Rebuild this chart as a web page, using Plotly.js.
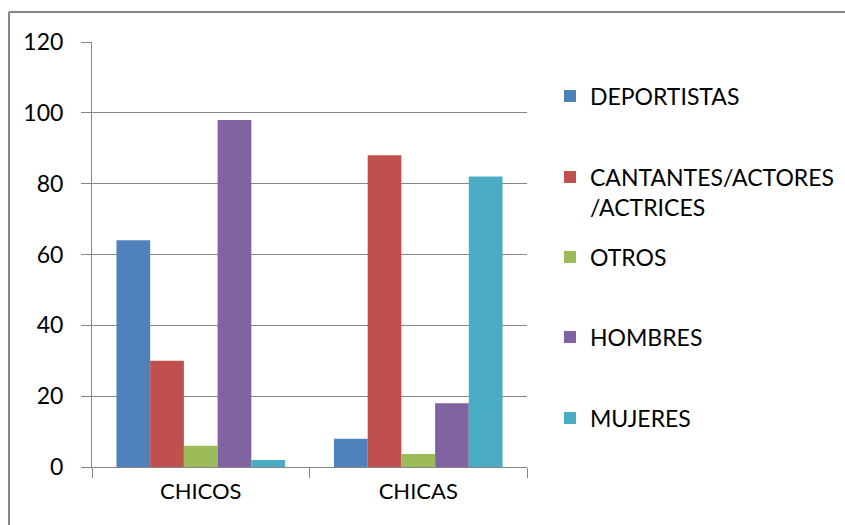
<!DOCTYPE html>
<html>
<head>
<meta charset="utf-8">
<script src="https://cdn.plot.ly/plotly-3.0.1.min.js"></script>
<style>html,body{margin:0;padding:0;background:#fff}#chart{width:845px;height:525px}</style>
</head>
<body>
<div id="chart"></div>
<script>
const categories = ['CHICOS', 'CHICAS'];
const seriesNames = ['DEPORTISTAS', 'CANTANTES/ACTORES<br>/ACTRICES', 'OTROS', 'HOMBRES', 'MUJERES'];
const deportistas = [64, 8];
const cantantes = [30, 88];
const otros = [6, 3.7];
const hombres = [98, 18];
const mujeres = [2, 82];
const yTicks = [0, 20, 40, 60, 80, 100, 120];

const colors = ['#4F81BD', '#C0504D', '#9BBB59', '#8064A2', '#4BACC6'];
const values = [deportistas, cantantes, otros, hombres, mujeres];
const legendIds = ['legend', 'legend2', 'legend3', 'legend4', 'legend5'];
const legendCenters = [96, 192, 257, 337, 418];

const W = 845, H = 525;
const M = {l: 92, r: 318, t: 42, b: 58};
const pw = W - M.l - M.r, ph = H - M.t - M.b;
const FONT = 'Lato, "Open Sans", sans-serif';
const GRID = '#878787';

const traces = values.map((v, i) => ({
  type: 'bar', x: categories, y: v, name: seriesNames[i],
  marker: {color: colors[i], line: {width: 0}},
  legend: legendIds[i], hoverinfo: 'skip'
}));

const layout = {
  width: W, height: H, margin: M,
  paper_bgcolor: '#fff', plot_bgcolor: '#fff',
  font: {family: FONT, size: 22, color: '#000'},
  barmode: 'group', bargap: 0.225, bargroupgap: 0,
  showlegend: true,
  xaxis: {
    type: 'category', showgrid: false, showline: true, linecolor: GRID, linewidth: 1,
    ticks: 'outside', tickson: 'boundaries', ticklen: 10, tickcolor: GRID, tickwidth: 1,
    tickfont: {family: FONT, size: 22, color: '#000'}, ticklabelstandoff: 5
  },
  yaxis: {
    range: [0, 120], tickvals: yTicks, ticktext: yTicks.map(String),
    showgrid: true, gridcolor: GRID, gridwidth: 1, zeroline: false,
    showline: true, linecolor: GRID, linewidth: 1,
    ticks: 'outside', ticklen: 10, tickcolor: GRID, tickwidth: 1,
    tickfont: {family: FONT, size: 23, color: '#000'}, ticklabelstandoff: 13
  },
  shapes: [
    {type: 'line', xref: 'paper', yref: 'paper',
     x0: (9 - M.l) / pw, x1: (9 - M.l) / pw, y0: (H - M.t - 600) / ph, y1: (H - M.b - 12) / ph,
     line: {color: GRID, width: 2}},
    {type: 'line', xref: 'paper', yref: 'paper',
     x0: (9 - M.l) / pw, x1: (W + 20 - M.l) / pw, y0: (H - M.b - 12) / ph, y1: (H - M.b - 12) / ph,
     line: {color: GRID, width: 2}}
  ]
};

legendIds.forEach((id, i) => {
  layout[id] = {
    xref: 'container', yref: 'container',
    x: 550 / W, y: 1 - legendCenters[i] / H, xanchor: 'left', yanchor: 'middle',
    valign: 'top', bgcolor: 'rgba(0,0,0,0)', borderwidth: 0,
    font: {family: FONT, size: 23, color: '#000'}
  };
});

Plotly.newPlot('chart', traces, layout, {displayModeBar: false, staticPlot: true});
</script>
</body>
</html>
